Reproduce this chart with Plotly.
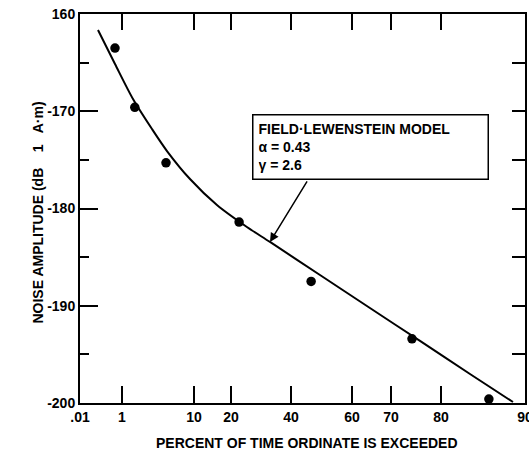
import numpy as np
import plotly.graph_objects as go

# Axis scale: tick labels (percent exceeded) and their relative positions on the chart's probability scale
TICK_LABELS = [".01", "1", "10", "20", "40", "60", "70", "80", "90"]
TICK_PERCENT = [0.01, 1, 10, 20, 40, 60, 70, 80, 90]
SCALE_POS = [0, 42, 114, 151, 211, 272, 311, 361, 445]

Y_TICKS = [-200, -190, -180, -170, -160]
Y_TICK_TEXT = ["-200", "-190", "-180", "-170", "160"]

# Measured data points
meas_pct = [0.835, 2.6, 6.5, 22.7, 46.6, 74.2, 85.7]
meas_db = [-163.5, -169.6, -175.3, -181.4, -187.5, -193.4, -199.6]

# Field-Lewenstein model curve (alpha = 0.43, gamma = 2.6)
model_pct = [0.434, 0.835, 2.375, 4.75, 6.625, 9.5, 16.2, 25.3, 33.0, 49.5, 64.6, 75.8, 83.45, 88.57]
model_db = [-161.65, -165.14, -168.74, -171.83, -174.09, -176.97, -179.64, -181.90, -183.44,
            -186.84, -190.23, -193.62, -197.02, -199.90]


def scale(p):
    return np.interp(p, TICK_PERCENT, SCALE_POS)


FONT = "Liberation Sans, Arial, sans-serif"
BOLD = dict(family=FONT, size=14, weight="bold", color="black")
fig = go.Figure()
fig.add_trace(go.Scatter(x=scale(model_pct), y=model_db, mode="lines",
                         line=dict(color="black", width=2, shape="spline", smoothing=0.8),
                         showlegend=False, hoverinfo="skip"))
fig.add_trace(go.Scatter(x=scale(meas_pct), y=meas_db, mode="markers",
                         marker=dict(color="black", size=9.5), showlegend=False))
# invisible trace for the mirrored top/right axes
fig.add_trace(go.Scatter(x=[SCALE_POS[0]], y=[Y_TICKS[0]], xaxis="x2", yaxis="y2",
                         mode="markers", marker=dict(opacity=0), showlegend=False,
                         hoverinfo="skip"))

xr = [SCALE_POS[0], SCALE_POS[-1]]
yr = [Y_TICKS[0], Y_TICKS[-1]]
fig.update_layout(
    width=529, height=453,
    margin=dict(l=80, r=4, t=14, b=50),
    plot_bgcolor="white", paper_bgcolor="white",
    font=dict(family=FONT, color="black", size=14),
    xaxis=dict(range=xr, tickmode="array", tickvals=scale(TICK_PERCENT), ticktext=TICK_LABELS,
               ticks="inside", ticklen=17, tickwidth=1.5, tickcolor="black",
               showline=True, linecolor="black", linewidth=2, showgrid=False, zeroline=False,
               tickfont=BOLD, fixedrange=True, automargin=False, ticklabeloverflow="allow"),
    yaxis=dict(range=yr, tickmode="array", tickvals=Y_TICKS, ticktext=Y_TICK_TEXT,
               ticks="inside", ticklen=18, tickwidth=1.5, tickcolor="black",
               minor=dict(tick0=-200, dtick=5, ticks="inside", ticklen=9, tickwidth=1.5,
                          tickcolor="black", showgrid=False),
               showline=True, linecolor="black", linewidth=2, showgrid=False, zeroline=False,
               tickfont=BOLD, fixedrange=True, automargin=False),
    xaxis2=dict(range=xr, overlaying="x", side="top", tickmode="array",
                tickvals=scale(TICK_PERCENT[1:-1]), ticks="inside", ticklen=16, tickwidth=1.5,
                tickcolor="black", showticklabels=False, showline=True, linecolor="black",
                linewidth=2, showgrid=False, zeroline=False, anchor="y2", automargin=False),
    yaxis2=dict(range=yr, overlaying="y", side="right", tickmode="linear", tick0=-200, dtick=5,
                ticks="inside", ticklen=13, tickwidth=1.5, tickcolor="black",
                showticklabels=False, showline=True, linecolor="black", linewidth=2,
                showgrid=False, zeroline=False, anchor="x2", automargin=False),
)

fig.add_annotation(text="NOISE AMPLITUDE (dB    1   A·m)", xref="paper", yref="paper",
                   x=-0.094, y=0.49, xanchor="center", yanchor="middle", textangle=-90,
                   showarrow=False, font=BOLD)
fig.add_annotation(text="PERCENT OF TIME ORDINATE IS EXCEEDED", xref="paper", yref="paper",
                   x=0.51, y=-0.103, xanchor="center", yanchor="middle",
                   showarrow=False, font=BOLD)

# Model label box
fig.add_annotation(text="FIELD·LEWENSTEIN MODEL<br>α = 0.43<br>γ = 2.6",
                   xref="paper", yref="paper", x=(252 - 80) / 445, y=(403 - 114) / 389,
                   xanchor="left", yanchor="top", align="left", showarrow=False,
                   width=224, height=53, borderpad=5, bordercolor="black", borderwidth=1.5,
                   bgcolor="white", font=BOLD)
# Arrow from box to the model curve
fig.add_annotation(text="", x=float(scale(33.0)), y=-183.44, xref="x", yref="y",
                   showarrow=True, arrowhead=2, arrowsize=1.2, arrowwidth=1.5,
                   arrowcolor="black", ax=38, ay=-62)

fig.write_html("out.html", config={"displayModeBar": False},
               post_script="document.body.style.margin='0';")
